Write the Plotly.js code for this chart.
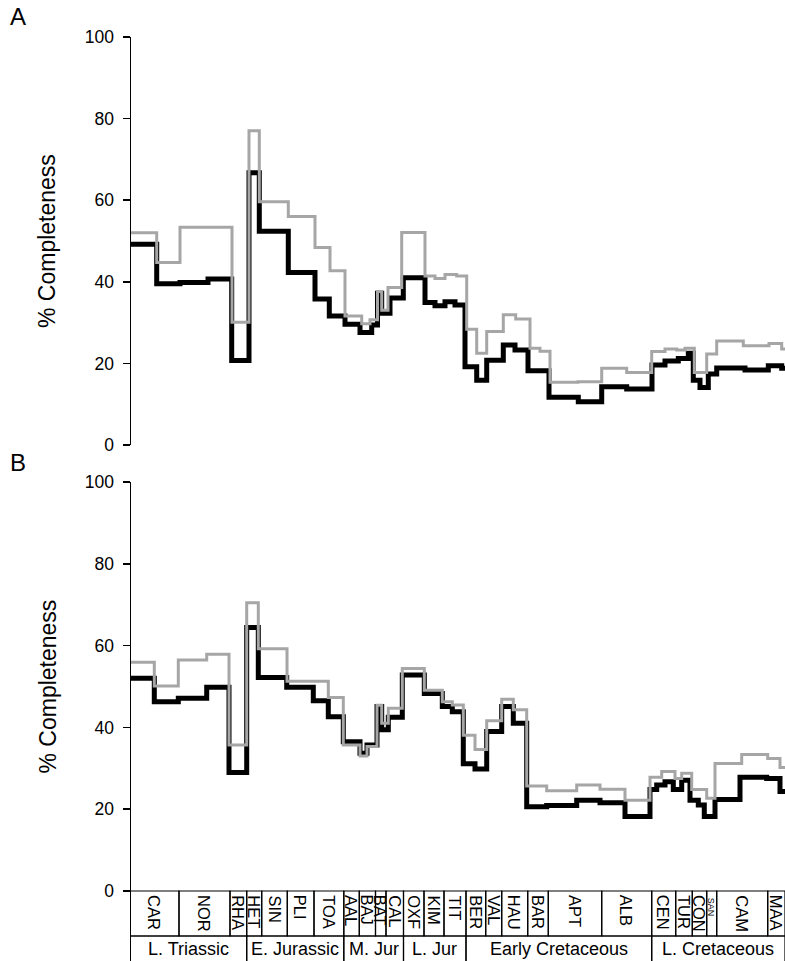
<!DOCTYPE html>
<html>
<head>
<meta charset="utf-8">
<script src="https://cdn.plot.ly/plotly-3.0.1.min.js"></script>
<style>html,body{margin:0;padding:0;background:#fff;}#chart{width:785px;height:961px;}</style>
</head>
<body>
<div id="chart"></div>
<script>
// x units: position along the stage scale (0 = start of Carnian)
const stageNames = ['CAR','NOR','RHA','HET','SIN','PLI','TOA','AAL','BAJ','BAT','CAL','OXF','KIM','TIT','BER','VAL','HAU','BAR','APT','ALB','CEN','TUR','CON','SAN','CAM','MAA'];
const stageBounds = [0,49,100,116.7,131.7,157.3,184,213.8,229.3,245.5,256,273.5,294,314,336,355.7,371.7,397.7,418.3,471.7,521.7,545.7,562.3,576.7,586.7,637.7,655];
const epochNames = ['L. Triassic','E. Jurassic','M. Jur','L. Jur','Early Cretaceous','L. Cretaceous'];
const epochBounds = [0,116.7,213.8,273.5,336,521.7,655];

// Panel A
const aBlackX = [0,26.7,50,78,101.7,119,129.3,158.3,185,199.3,215,230,241.7,247.5,251.7,260,273.3,295,305,315,325,335,346.7,356.7,373.3,385,398,419,448.3,471.7,496.7,522,535,548.3,558.3,563.3,570,578.3,586.7,615,638.3,651.7];
const aBlackY = [49.2,39.5,39.8,40.7,20.7,66.7,52.4,42.3,35.8,31.6,29.6,27.6,29.4,37.2,32.3,36.0,41.0,34.9,34.1,35.1,34.3,19.2,15.9,20.8,24.5,23.3,18.2,11.7,10.6,14.3,13.7,19.6,20.6,21.2,22.5,15.9,14.1,17.4,18.9,18.4,19.4,18.8];
const aGreyX = [0,26.7,50,102,119,129.3,158.3,185,200,215,231.7,240,247.5,251.7,258,271.7,295,305,315,326.7,336.7,346.7,356.7,373.3,385.7,400,410,420,448,471.7,496.7,521.7,535,546.7,555,564.3,576.7,586.7,613.3,639,651.7];
const aGreyY = [52.0,44.7,53.4,30.1,77.0,59.6,56.0,48.4,42.7,31.6,29.7,30.7,37.6,33.0,38.6,52.1,41.4,40.8,41.8,41.4,28.4,22.5,27.8,31.9,30.9,23.7,23.0,15.4,15.5,18.8,17.8,22.9,23.5,23.3,23.7,17.8,22.3,25.5,24.3,24.9,23.5];

// Panel B
const bBlackX = [0,24.3,48.3,76.7,99,116.7,128.3,156.7,183.3,198.3,213.3,230,237,247,251.7,258.3,272.3,294.3,312.3,322.3,333.3,345,356.7,371.7,383.3,396.7,416.7,446.7,470,495,520,526.7,535,543.3,551.7,560,568.3,574.3,585,610,636.7,650];
const bBlackY = [52.0,46.3,47.1,49.8,29.0,64.4,52.2,49.8,46.5,42.6,36.5,33.7,35.7,45.1,39.4,42.5,52.8,48.3,45.1,43.8,31.1,29.8,39.0,45.1,41.0,20.6,20.9,22.2,21.6,18.2,24.8,25.9,26.7,24.8,27.1,22.2,21.0,18.2,22.4,27.8,27.5,24.3];
const bGreyX = [0,24.3,48.3,76.7,99,116.7,128.3,157,198.3,213.3,230,237,247,251.7,258.3,272.3,294.3,312.3,322.3,333.3,345,356.7,371.7,383.3,396.7,416.7,446.7,470,495,520,531.7,545,551.7,561.7,576.7,585,611.7,637.7,650];
const bGreyY = [55.9,50.1,56.5,57.9,35.7,70.5,59.2,51.3,47.3,35.7,33.0,35.3,45.4,41.0,44.7,54.4,49.1,46.3,45.5,38.1,34.6,41.6,46.9,44.3,25.7,24.5,25.9,24.9,22.2,27.8,29.2,27.5,28.8,24.8,22.7,31.2,33.4,32.4,30.2];

const yTicks = [0,20,40,60,80,100];

const H = 961, W = 785;
const py = p => 1 - p / H;
const FONT = 'Liberation Sans, Arial, Helvetica, sans-serif';
const xEnd = stageBounds[stageBounds.length - 1];
const ext = (xs) => xs.concat([xEnd]);
const extY = (ys) => ys.concat([ys[ys.length - 1]]);

function stepTrace(xs, ys, xa, ya, color, width) {
  return {x: ext(xs), y: extY(ys), xaxis: xa, yaxis: ya, mode: 'lines',
    line: {shape: 'hv', color: color, width: width}, hoverinfo: 'skip'};
}
const BLACK = '#000000', GREY = '#a6a6a6';
const data = [
  stepTrace(aBlackX, aBlackY, 'x', 'y', BLACK, 5),
  stepTrace(aGreyX, aGreyY, 'x', 'y', GREY, 3),
  stepTrace(bBlackX, bBlackY, 'x2', 'y2', BLACK, 5),
  stepTrace(bGreyX, bGreyY, 'x2', 'y2', GREY, 3),
  {x: [], y: [], xaxis: 'x2', yaxis: 'y3', mode: 'lines', hoverinfo: 'skip'}
];

const xDomain = [131 / W, 1];
const xRange = [1, 655];
const yAx = (dom, anchor) => ({
  domain: dom, anchor: anchor, range: [0, 100], tickvals: yTicks,
  showline: true, linecolor: '#000', linewidth: 1.5,
  ticks: 'outside', ticklen: 7, tickwidth: 1.5, tickcolor: '#000',
  showgrid: false, zeroline: false, ticklabelstandoff: 5,
  tickfont: {family: FONT, size: 17.5, color: '#000'}, fixedrange: true
});

const shapes = [];
const annotations = [];
const stageTop = py(891), stageBot = py(936);
for (let i = 0; i < stageNames.length; i++) {
  shapes.push({type: 'rect', xref: 'x2', yref: 'paper', x0: stageBounds[i], x1: stageBounds[i + 1],
    y0: stageBot, y1: stageTop, line: {color: '#000', width: 1.2}, fillcolor: 'rgba(0,0,0,0)'});
  const small = stageNames[i] === 'SAN';
  annotations.push({xref: 'x2', yref: 'paper', x: (stageBounds[i] + stageBounds[i + 1]) / 2,
    y: py(small ? 896 : 893), yanchor: 'top', xanchor: 'center', textangle: 90, showarrow: false,
    text: stageNames[i], font: {family: FONT, size: small ? 9 : 16.5, color: '#000'}});
}
for (let i = 0; i < epochNames.length; i++) {
  shapes.push({type: 'rect', xref: 'x2', yref: 'paper', x0: epochBounds[i], x1: epochBounds[i + 1],
    y0: -0.05, y1: stageBot, line: {color: '#000', width: 1.2}, fillcolor: 'rgba(0,0,0,0)'});
  annotations.push({xref: 'x2', yref: 'paper', x: (epochBounds[i] + epochBounds[i + 1]) / 2,
    y: py(949), yanchor: 'middle', xanchor: 'center', showarrow: false,
    text: epochNames[i], font: {family: FONT, size: 18, color: '#000'}});
}
// axis titles and panel letters
[[241, '% Completeness'], [686.5, '% Completeness']].forEach(([yc, t]) => {
  annotations.push({xref: 'paper', yref: 'paper', x: 47 / W, y: py(yc), xanchor: 'center', yanchor: 'middle',
    textangle: -90, showarrow: false, text: t, font: {family: FONT, size: 23, color: '#000'}});
});
[[16.5, 'A'], [463, 'B']].forEach(([yc, t]) => {
  annotations.push({xref: 'paper', yref: 'paper', x: 8 / W, y: py(yc), xanchor: 'left', yanchor: 'middle',
    showarrow: false, text: t, font: {family: FONT, size: 24, color: '#000'}});
});

const layout = {
  width: W, height: H, margin: {l: 0, r: 0, t: 0, b: 0, pad: 0},
  paper_bgcolor: '#fff', plot_bgcolor: '#fff', showlegend: false,
  xaxis: {domain: xDomain, range: xRange, anchor: 'y', visible: false, fixedrange: true},
  yaxis: yAx([py(445), py(37)], 'x'),
  xaxis2: {domain: xDomain, range: xRange, anchor: 'y2', visible: false, fixedrange: true},
  yaxis2: yAx([py(891), py(482)], 'x2'),
  yaxis3: {domain: [0, py(891)], anchor: 'x2', range: [0, 1], showline: true, linecolor: '#000', linewidth: 1.5,
    ticks: '', showticklabels: false, showgrid: false, zeroline: false, fixedrange: true},
  shapes: shapes, annotations: annotations
};
Plotly.newPlot('chart', data, layout, {displayModeBar: false, staticPlot: true});
</script>
</body>
</html>
